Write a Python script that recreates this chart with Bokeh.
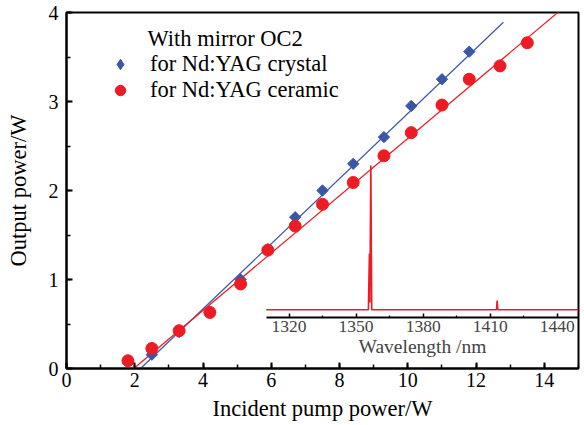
import numpy as np
from bokeh.plotting import figure
from bokeh.models import (Range1d, LinearAxis, FixedTicker, SingleIntervalTicker,
                          Legend, LegendItem, Label)
from bokeh.embed import file_html
from bokeh.resources import INLINE

# ---------------- data ----------------
crystal_pump = [2.5, 3.3, 4.2, 5.1, 5.9, 6.7, 7.5, 8.4, 9.3, 10.1, 11.0, 11.8]
crystal_power = [0.155, 0.41, 0.63, 1.0, 1.34, 1.70, 2.0, 2.30, 2.60, 2.95, 3.25, 3.56]
ceramic_pump = [1.8, 2.5, 3.3, 4.2, 5.1, 5.9, 6.7, 7.5, 8.4, 9.3, 10.1, 11.0, 11.8, 12.7, 13.5]
ceramic_power = [0.087, 0.225, 0.425, 0.63, 0.95, 1.33, 1.60, 1.845, 2.09, 2.39, 2.65,
                 2.96, 3.25, 3.40, 3.66]

# linear fits (slope in W/W, threshold in W, end of drawn fit in W)
crystal_slope, crystal_threshold, crystal_fit_end = 0.366, 2.17, 12.8
ceramic_slope, ceramic_threshold, ceramic_fit_end = 0.322, 1.97, 15.0

# inset spectrum
spectrum_wavelength = [1309.8, 1355.5, 1355.95, 1356.15, 1356.6, 1357.0,
                       1412.8, 1413.1, 1413.4, 1449.5]
spectrum_intensity = [0.0, 0.0, 0.39, 0.05, 1.0, 0.0, 0.0, 0.064, 0.0, 0.0]
inset_ticks = [1320, 1350, 1380, 1410, 1440]
inset_minor_ticks = [1335, 1365, 1395, 1425]

legend_title = "With mirror OC2"
crystal_label = "for Nd:YAG crystal"
ceramic_label = "for Nd:YAG ceramic"

# ---------------- styles ----------------
FONT = "Liberation Serif"
BLUE = "#3a56a6"
RED = "#ed1c24"

W, H = 584, 425
BT, BB, BL, BR = 12, 57, 66, 6
frame_h = H - BT - BB

p = figure(width=W, height=H, x_range=Range1d(0, 15), y_range=Range1d(0, 4),
           output_backend="svg", toolbar_location=None,
           min_border_left=BL, min_border_right=BR, min_border_top=BT, min_border_bottom=BB,
           x_axis_label="Incident pump power/W", y_axis_label="Output power/W")
p.xgrid.visible = False
p.ygrid.visible = False
p.outline_line_color = "black"
p.outline_line_width = 2
p.background_fill_color = "white"
p.border_fill_color = "white"

xa = p.xaxis[0]
ya = p.yaxis[0]
xa.ticker = SingleIntervalTicker(interval=2, num_minor_ticks=2)
ya.ticker = SingleIntervalTicker(interval=1, num_minor_ticks=2)
for ax in (xa, ya):
    ax.axis_line_width = 2
    ax.major_tick_in = 6
    ax.major_tick_out = 0
    ax.minor_tick_in = 4
    ax.minor_tick_out = 0
    ax.major_tick_line_width = 2
    ax.minor_tick_line_width = 1.5
    ax.major_label_text_font = FONT
    ax.major_label_text_font_size = "20px"
    ax.major_label_text_color = "black"
    ax.axis_label_text_font = FONT
    ax.axis_label_text_font_size = "22.5px"
    ax.axis_label_text_font_style = "normal"
    ax.axis_label_text_color = "black"
xa.major_label_standoff = 4
xa.axis_label_standoff = 6
ya.major_label_standoff = 8
ya.axis_label_standoff = 15

# ---------------- inset ----------------
p.extra_x_ranges = {"wl": Range1d(1220.45, 1449.5)}
p.extra_y_ranges = {"inset": Range1d(-0.4068, 2.060)}

p.line(spectrum_wavelength, spectrum_intensity, x_range_name="wl", y_range_name="inset",
       line_color=RED, line_width=1.6)

inset_axis = LinearAxis(x_range_name="wl", y_range_name="inset", fixed_location=-0.05,
                        bounds=(1309.8, 1449.5),
                        ticker=FixedTicker(ticks=inset_ticks, minor_ticks=inset_minor_ticks),
                        axis_label="Wavelength /nm")
inset_axis.axis_line_width = 2
inset_axis.major_tick_in = 4
inset_axis.major_tick_out = 0
inset_axis.minor_tick_in = 2
inset_axis.minor_tick_out = 0
inset_axis.major_tick_line_width = 1.5
inset_axis.minor_tick_line_width = 1.2
inset_axis.major_label_text_font = FONT
inset_axis.major_label_text_font_size = "17.5px"
inset_axis.major_label_standoff = 4
inset_axis.axis_label_text_font = FONT
inset_axis.axis_label_text_font_size = "19.5px"
inset_axis.axis_label_text_font_style = "normal"
inset_axis.axis_label_standoff = 0
p.add_layout(inset_axis, "below")

# ---------------- fits ----------------
cx = np.array([crystal_threshold, crystal_fit_end])
p.line(cx, crystal_slope * (cx - crystal_threshold), line_color=BLUE, line_width=1.2)
rx = np.array([ceramic_threshold, ceramic_fit_end])
p.line(rx, ceramic_slope * (rx - ceramic_threshold), line_color=RED, line_width=1.2)

# ---------------- data points ----------------
r_crystal = p.scatter(crystal_pump, crystal_power, marker="square", angle=np.pi / 4,
                      size=8, fill_color=BLUE, line_color=BLUE)
r_ceramic = p.scatter(ceramic_pump, ceramic_power, marker="circle", size=12,
                      fill_color=RED, line_color=RED)
# legend key for the crystal series (legend keys are drawn unrotated, so use a diamond);
# its single point is NaN so it draws nothing in the plot itself
r_crystal_key = p.scatter(x=[np.nan], y=[np.nan], marker="diamond",
                          fill_color=BLUE, line_color=BLUE)

# ---------------- legend ----------------
legend = Legend(items=[LegendItem(label=crystal_label, renderers=[r_crystal_key]),
                       LegendItem(label=ceramic_label, renderers=[r_ceramic])],
                location=(41, frame_h - 39 - 52), padding=0, margin=0, spacing=0,
                glyph_width=26, glyph_height=26, label_height=26, label_standoff=17,
                border_line_color=None, background_fill_alpha=0,
                label_text_font=FONT, label_text_font_size="22.5px", label_text_color="black")
p.add_layout(legend)

p.add_layout(Label(x=2.373, y=3.708, text=legend_title, text_font=FONT, text_font_size="22.5px",
                   text_align="left", text_baseline="middle", text_color="black"))

open("out.html", "w").write(file_html(p, INLINE))
